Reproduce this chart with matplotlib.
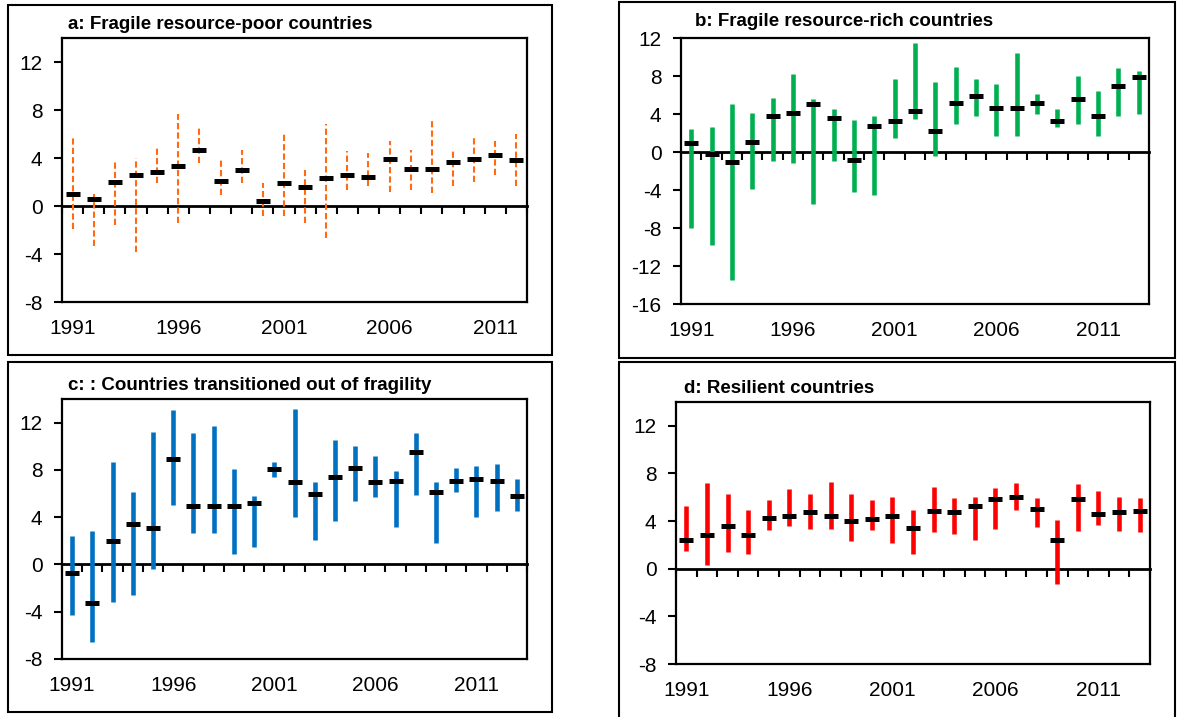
#!/usr/bin/env python3
"""Four-panel range chart: growth ranges by country group, 1991-2013."""

import matplotlib

matplotlib.use("Agg")
import matplotlib.pyplot as plt
import numpy as np
from matplotlib.patches import Rectangle

plt.rcParams["font.family"] = ["Liberation Sans Narrow", "Liberation Sans", "DejaVu Sans"]
plt.rcParams["axes.unicode_minus"] = False

W, H = 1177, 717

# a: Fragile resource-poor (1991-2012)
years_a = list(range(1991, 2013))
mid_a = [1.0, 0.6, 2.0, 2.6, 2.85, 3.3, 4.65, 2.1, 3.0, 0.45, 1.9, 1.6,
         2.3, 2.6, 2.45, 3.95, 3.1, 3.1, 3.7, 3.95, 4.25, 3.8]
hi_a = [5.8, 1.0, 3.8, 4.0, 5.0, 7.7, 6.7, 4.0, 4.7, 1.9, 6.0, 3.0,
        6.8, 4.6, 4.4, 5.4, 4.7, 7.2, 4.6, 5.8, 5.4, 6.0]
lo_a = [-1.9, -3.3, -1.6, -3.8, 1.9, -1.4, 3.6, 0.9, 1.9, -0.85, -0.8, -1.4,
        -2.7, 1.3, 1.7, 1.2, 1.3, 1.1, 1.7, 2.0, 2.6, 1.7]

# b: Fragile resource-rich (1991-2013)
years_b = list(range(1991, 2014))
mid_b = [0.95, -0.25, -1.05, 1.1, 3.8, 4.15, 5.05, 3.6, -0.85, 2.75, 3.25, 4.3,
         2.2, 5.2, 5.9, 4.65, 4.65, 5.2, 3.25, 5.6, 3.8, 7.0, 7.9]
hi_b = [2.4, 2.6, 5.1, 4.1, 5.65, 8.2, 5.6, 4.55, 3.35, 3.8, 7.7, 11.5,
        7.4, 9.0, 7.7, 7.2, 10.45, 6.15, 4.55, 7.95, 6.4, 8.8, 8.5]
lo_b = [-8.05, -9.8, -13.5, -3.85, -0.9, -1.15, -5.5, -0.9, -4.25, -4.55, 1.45, 3.45,
        -0.4, 2.9, 3.75, 1.65, 1.65, 3.95, 2.6, 2.9, 1.65, 3.75, 3.95]

# c: Countries transitioned out of fragility (1991-2013)
years_c = list(range(1991, 2014))
mid_c = [-0.7, -3.3, 2.0, 3.4, 3.1, 8.9, 4.95, 4.95, 4.95, 5.2, 8.1, 6.95,
         5.95, 7.4, 8.2, 6.95, 7.05, 9.5, 6.1, 7.05, 7.25, 7.05, 5.8]
hi_c = [2.45, 2.8, 8.7, 6.1, 11.25, 13.1, 11.1, 11.7, 8.1, 5.8, 8.7, 13.15,
        6.95, 10.55, 10.0, 9.2, 7.95, 11.1, 6.95, 8.2, 8.3, 8.5, 7.2]
lo_c = [-4.3, -6.6, -3.2, -2.55, -0.35, 5.0, 2.7, 2.7, 0.9, 1.45, 7.4, 4.0,
        2.1, 3.7, 5.4, 5.7, 3.15, 5.9, 1.85, 6.1, 4.0, 4.55, 4.55]

# d: Resilient countries (1991-2013)
years_d = list(range(1991, 2014))
mid_d = [2.4, 2.85, 3.55, 2.85, 4.25, 4.45, 4.75, 4.45, 4.0, 4.15, 4.45, 3.45,
         4.85, 4.75, 5.3, 5.85, 6.05, 5.0, 2.4, 5.85, 4.6, 4.75, 4.85]
hi_d = [5.3, 7.2, 6.25, 4.9, 5.8, 6.7, 6.3, 7.3, 6.3, 5.8, 6.05, 4.95,
        6.9, 5.9, 6.05, 6.75, 7.2, 5.9, 4.05, 7.1, 6.5, 6.05, 5.9]
lo_d = [1.45, 0.35, 1.4, 1.25, 3.25, 3.55, 3.3, 3.3, 2.3, 3.25, 2.2, 1.2,
        3.05, 2.9, 2.45, 3.3, 4.9, 3.5, -1.25, 3.2, 3.65, 3.2, 3.1]

label_years = [1991, 1996, 2001, 2006, 2011]

ORANGE = "#FF6A13"
GREEN = "#00B050"
BLUE = "#0070C0"
RED = "#FF0000"


def _fig_rect(x0, y0, x1, y1):
    """Pixel box (top-left origin) to figure-fraction [l, b, w, h]."""
    return [x0 / W, 1 - y1 / H, (x1 - x0) / W, (y1 - y0) / H]


def draw_panel(fig, box, frame, title_xy, title, years, mid, lo, hi, color,
               dashed, ylim, yticks):
    ax = fig.add_axes(_fig_rect(*box))
    x = np.arange(len(years))

    if dashed:
        ax.vlines(x, lo, hi, colors=color, linewidth=1.5,
                  linestyles=(0, (3, 1.5)), zorder=2)
    else:
        ax.vlines(x, lo, hi, colors=color, linewidth=3.3, zorder=2)
    ax.plot(x, mid, linestyle="none", marker="_", markersize=10,
            markeredgewidth=3.6, color="black", zorder=4)

    ax.set_xlim(-0.5, len(years) - 0.5)
    ax.set_ylim(*ylim)
    ax.set_yticks(yticks)
    ax.tick_params(axis="y", direction="out", length=6, width=1.5,
                   labelsize=15, pad=8)
    ax.set_xticks([years.index(y) for y in label_years])
    ax.set_xticklabels([str(y) for y in label_years])
    ax.tick_params(axis="x", length=0, labelsize=15, pad=12)
    for s in ax.spines.values():
        s.set_linewidth(1.6)

    # category axis crossing at zero, ticks between categories
    sec = ax.secondary_xaxis(0, transform=ax.transData)
    sec.set_xticks(np.arange(len(years) + 1) - 0.5)
    sec.tick_params(direction="out", length=6, width=1.5, labelbottom=False)
    sec.spines["bottom"].set_linewidth(2)

    fig.add_artist(Rectangle((frame[0] / W, 1 - frame[3] / H),
                             (frame[2] - frame[0]) / W, (frame[3] - frame[1]) / H,
                             transform=fig.transFigure, fill=False,
                             linewidth=1.5, edgecolor="black"))
    fig.text(title_xy[0] / W, 1 - title_xy[1] / H, title, fontsize=13.5,
             fontweight="bold", ha="left", va="baseline")
    return ax


fig = plt.figure(figsize=(W / 100, H / 100), dpi=100)

draw_panel(fig, (62, 38, 527, 302), (8, 5, 552, 355), (68, 29),
           "a: Fragile resource-poor countries",
           years_a, mid_a, lo_a, hi_a, ORANGE, True, (-8, 14), [-8, -4, 0, 4, 8, 12])
draw_panel(fig, (681, 38, 1149, 304), (619, 2, 1175, 358), (695, 26),
           "b: Fragile resource-rich countries",
           years_b, mid_b, lo_b, hi_b, GREEN, False, (-16, 12),
           [-16, -12, -8, -4, 0, 4, 8, 12])
draw_panel(fig, (62, 399, 527, 659), (8, 362, 552, 712), (68, 390),
           "c: : Countries transitioned out of fragility",
           years_c, mid_c, lo_c, hi_c, BLUE, False, (-8, 14), [-8, -4, 0, 4, 8, 12])
draw_panel(fig, (676, 402, 1150, 664), (619, 362, 1175, 722), (684, 393),
           "d: Resilient countries",
           years_d, mid_d, lo_d, hi_d, RED, False, (-8, 14), [-8, -4, 0, 4, 8, 12])

fig.savefig("out.png", dpi=100)
